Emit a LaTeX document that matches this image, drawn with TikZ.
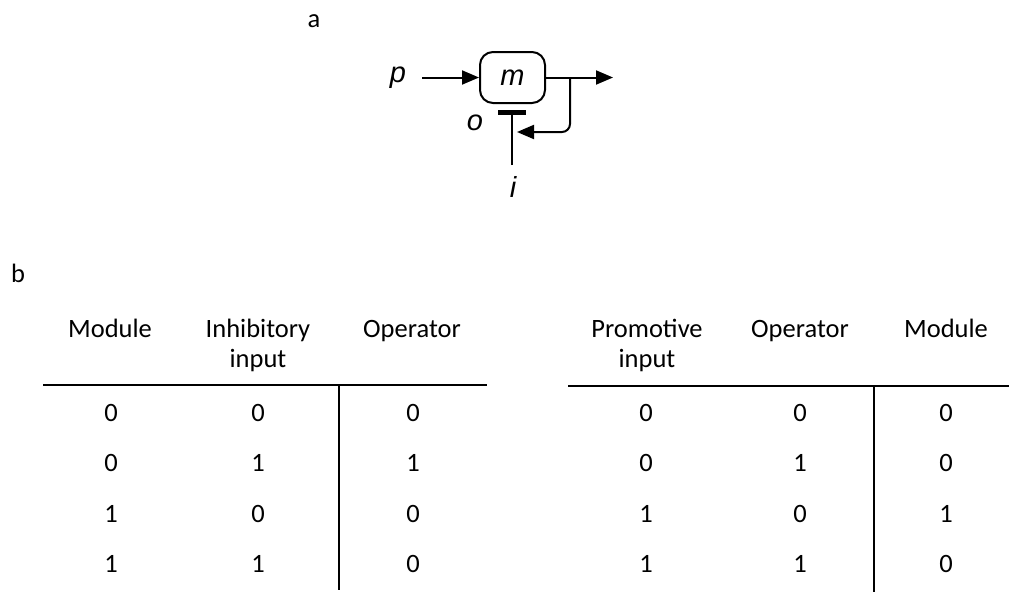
\documentclass[tikz,border=0pt]{standalone}
\usepackage{fontspec}
\setmainfont{Carlito}
\newfontfamily\diagfont{Liberation Sans}
\usetikzlibrary{arrows.meta}

\begin{document}
\begin{tikzpicture}[x=1pt,y=-1pt,
  txt/.style={font=\fontsize{26.5}{31}\selectfont, inner sep=0pt, anchor=base},
  lbl/.style={font=\diagfont\itshape\fontsize{29}{34}\selectfont, inner sep=0pt, anchor=base},
  wire/.style={line width=2pt},
  tip/.style={-{Triangle[length=17pt,width=14pt]}},
  rulebar/.style={line width=2pt}]
\useasboundingbox (0,0) rectangle (1009,592);

% ---- panel a: module with promotive input and inhibitory operator
\node[txt] (la) at (314,27) {a};
\node[draw, wire, rounded corners=13pt, minimum width=65pt, minimum height=51pt,
      inner sep=0pt, font=\diagfont\itshape\fontsize{29}{34}\selectfont]
      (m) at (512.5,77.5) {m};
\node[lbl] (p) at (398,82) {p};
\node[lbl] (o) at (475,130) {o};
\node[lbl] (i) at (513,197) {i};
\coordinate (pin) at (422,77.5);
\coordinate (out) at (613,77.5);
\coordinate (br) at (570,77.5);
\coordinate (fb) at (517,132);
\coordinate (op) at (512,110);
\coordinate (ibase) at (512,165);

\draw[wire,tip] (pin) -- (m.west);
\draw[wire,tip] (m.east) -- (out);
\draw[wire,tip,rounded corners=8pt] (br) |- (fb);
\draw[wire,-{Bar[width=28pt,line width=4.5pt]}] (ibase) -- (op);

% ---- panel b: truth tables
\node[txt] (lb) at (18,282) {b};

% left table: module, inhibitory input -> operator
\node[txt] (hl1) at (110,337) {Module};
\node[txt] (hl2) at (258,337) {Inhibitory};
\node[txt] (hl2b) at (258,367) {input};
\node[txt] (hl3) at (412,337) {Operator};
\coordinate (lr0) at (43,385);
\coordinate (lr1) at (487,385);
\coordinate (lv0) at (339,385);
\coordinate (lv1) at (339,590);
\draw[rulebar] (lr0) -- (lr1);
\draw[rulebar] (lv0) -- (lv1);

\foreach \y/\a/\b/\c [count=\k] in {421/0/0/0, 471/0/1/1, 522/1/0/0, 572/1/1/0}{
  \node[txt] (la\k) at (111,\y) {\a};
  \node[txt] (lb\k) at (258,\y) {\b};
  \node[txt] (lc\k) at (413,\y) {\c};
}

% right table: promotive input, operator -> module
\node[txt] (hr1) at (647,337) {Promotive};
\node[txt] (hr1b) at (647,367) {input};
\node[txt] (hr2) at (800,337) {Operator};
\node[txt] (hr3) at (946,337) {Module};
\coordinate (rr0) at (568,386);
\coordinate (rr1) at (1009,386);
\coordinate (rv0) at (874,386);
\coordinate (rv1) at (874,592);
\draw[rulebar] (rr0) -- (rr1);
\draw[rulebar] (rv0) -- (rv1);

\foreach \y/\a/\b/\c [count=\k] in {421/0/0/0, 471/0/1/0, 522/1/0/1, 572/1/1/0}{
  \node[txt] (ra\k) at (646,\y) {\a};
  \node[txt] (rb\k) at (800,\y) {\b};
  \node[txt] (rc\k) at (946,\y) {\c};
}
\end{tikzpicture}
\end{document}
